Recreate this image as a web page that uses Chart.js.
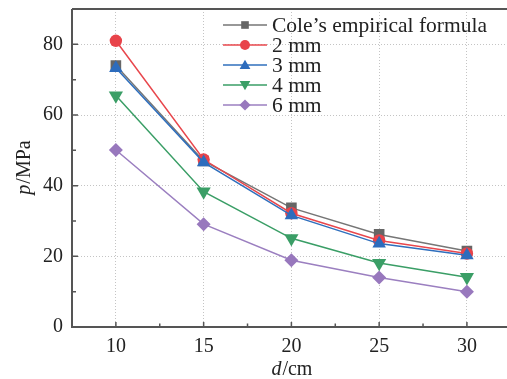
<!DOCTYPE html>
<html>
<head>
<meta charset="utf-8">
<script src="https://cdn.jsdelivr.net/npm/chart.js@4/dist/chart.umd.min.js"></script>
<style>
  html, body { margin: 0; padding: 0; background: #fff; overflow: hidden; }
  #wrap { width: 507px; height: 379px; overflow: hidden; position: relative; }
  #box { width: 519px; height: 379px; }
  #c { display: block; }
</style>
</head>
<body>
<div id="wrap"><div id="box"><canvas id="c" width="519" height="379"></canvas></div></div>
<script>
// Distance d (cm) and peak pressure p (MPa)
const distances   = [10, 15, 20, 25, 30];
const coleFormula = [74.0, 47.0, 33.7, 26.2, 21.5];
const gap2mm      = [81.0, 47.4, 32.2, 24.5, 20.8];
const gap3mm      = [73.3, 46.6, 31.6, 23.6, 20.3];
const gap4mm      = [65.5, 38.3, 25.1, 18.1, 14.1];
const gap6mm      = [50.1, 29.1, 18.9, 14.0, 10.0];

const seriesNames = ['Cole\u2019s empirical formula', '2 mm', '3 mm', '4 mm', '6 mm'];
const xTickValues = [10, 15, 20, 25, 30];
const yTickValues = [0, 20, 40, 60, 80];
const xMinorTicks = [12.5, 17.5, 22.5, 27.5];
const yMinorTicks = [10, 30, 50, 70];

const FONT = "'Liberation Serif', 'Times New Roman', serif";
const AXIS_COLOR = '#555555';

const styles = [
  { line: '#767676', fill: '#666666', shape: 'rect',     radius: 7.5, rot: 0 },
  { line: '#e8474d', fill: '#e8434a', shape: 'circle',   radius: 6.2, rot: 0 },
  { line: '#2f6fbd', fill: '#2d6cbd', shape: 'triangle', radius: 7.8, rot: 0 },
  { line: '#3a9e66', fill: '#3a9e66', shape: 'triangle', radius: 8.2, rot: 180 },
  { line: '#9b7fc0', fill: '#9878bd', shape: 'rectRot',  radius: 7.0, rot: 0 }
];

const seriesValues = [coleFormula, gap2mm, gap3mm, gap4mm, gap6mm];

const datasets = seriesValues.map((vals, i) => ({
  label: seriesNames[i],
  data: distances.map((d, k) => ({ x: d, y: vals[k] })),
  borderColor: styles[i].line,
  borderWidth: 1.5,
  backgroundColor: styles[i].fill,
  pointStyle: styles[i].shape,
  pointRadius: styles[i].radius,
  pointHoverRadius: styles[i].radius,
  pointRotation: styles[i].rot,
  pointBackgroundColor: styles[i].fill,
  pointBorderWidth: 0,
  tension: 0,
  fill: false,
  order: -i
}));

// Axis frame, inward ticks, axis titles and legend
const decorPlugin = {
  id: 'decor',
  beforeDatasetsDraw(chart) {
    const { ctx, chartArea: a, scales: { x, y } } = chart;
    ctx.save();
    ctx.strokeStyle = AXIS_COLOR;
    ctx.lineWidth = 1.5;
    ctx.beginPath();
    yTickValues.forEach(v => { const py = y.getPixelForValue(v); ctx.moveTo(a.left, py); ctx.lineTo(a.left + 6, py); });
    yMinorTicks.forEach(v => { const py = y.getPixelForValue(v); ctx.moveTo(a.left, py); ctx.lineTo(a.left + 4, py); });
    xTickValues.forEach(v => { const px = x.getPixelForValue(v); ctx.moveTo(px, a.bottom); ctx.lineTo(px, a.bottom - 5); });
    xMinorTicks.forEach(v => { const px = x.getPixelForValue(v); ctx.moveTo(px, a.bottom); ctx.lineTo(px, a.bottom - 3.5); });
    ctx.stroke();
    ctx.lineWidth = 2;
    ctx.beginPath();
    ctx.moveTo(a.left, a.top); ctx.lineTo(a.right, a.top);
    ctx.moveTo(a.left, a.top); ctx.lineTo(a.left, a.bottom);
    ctx.moveTo(a.left - 1, a.bottom); ctx.lineTo(a.right, a.bottom);
    ctx.stroke();
    ctx.restore();
  },
  afterDraw(chart) {
    const { ctx, chartArea: a } = chart;
    ctx.save();
    ctx.fillStyle = '#222';
    ctx.textBaseline = 'middle';

    // mixed italic / upright axis title
    const drawTitle = (italicPart, rest, cx, cy, angle) => {
      ctx.save();
      ctx.translate(cx, cy);
      ctx.rotate(angle);
      ctx.font = `italic 20px ${FONT}`;
      const w1 = ctx.measureText(italicPart).width;
      ctx.font = `20px ${FONT}`;
      const w2 = ctx.measureText(rest).width;
      const start = -(w1 + w2) / 2;
      ctx.textAlign = 'left';
      ctx.font = `italic 20px ${FONT}`;
      ctx.fillText(italicPart, start, 0);
      ctx.font = `20px ${FONT}`;
      ctx.fillText(rest, start + w1 + 1, 0);
      ctx.restore();
    };
    drawTitle('p', '/MPa', 25, (a.top + a.bottom) / 2, -Math.PI / 2);
    drawTitle('d', '/cm', (a.left + a.right) / 2, 370, 0);

    // legend
    const lx0 = 223, lx1 = 267, mx = 245, tx = 272;
    const rows = [25, 45, 65, 85, 105];
    const legendScale = [0.72, 0.8, 0.8, 0.75, 0.8];
    ctx.font = `21.5px ${FONT}`;
    ctx.textAlign = 'left';
    styles.forEach((s, i) => {
      const ry = rows[i];
      ctx.strokeStyle = s.line;
      ctx.lineWidth = 1.5;
      ctx.beginPath();
      ctx.moveTo(lx0, ry); ctx.lineTo(lx1, ry);
      ctx.stroke();
      ctx.fillStyle = s.fill;
      Chart.helpers.drawPoint(ctx, {
        pointStyle: s.shape,
        radius: s.radius * legendScale[i],
        rotation: s.rot,
        borderWidth: 0
      }, mx, ry + (s.shape === 'triangle' ? (s.rot ? -1 : 1) : 0));
      ctx.fillStyle = '#222';
      ctx.fillText(seriesNames[i], tx, ry + 1);
    });
    ctx.restore();
  }
};

new Chart(document.getElementById('c'), {
  type: 'line',
  data: { datasets },
  plugins: [decorPlugin],
  options: {
    responsive: false,
    animation: false,
    events: [],
    layout: { padding: { top: 9, left: 0, right: 0, bottom: 0 } },
    plugins: { legend: { display: false }, tooltip: { enabled: false } },
    scales: {
      x: {
        type: 'linear',
        min: 7.5,
        max: 32.5,
        afterBuildTicks: s => { s.ticks = xTickValues.map(v => ({ value: v })); },
        afterFit: s => { s.height = 52; s.paddingLeft = 0; s.paddingRight = 0; },
        grid: { color: '#c4c4c4', lineWidth: 1, drawTicks: false },
        border: { display: false, dash: [1, 2] },
        ticks: { font: { family: FONT, size: 20 }, color: '#222', padding: 8, maxRotation: 0 }
      },
      y: {
        type: 'linear',
        min: 0,
        max: 90,
        afterBuildTicks: s => { s.ticks = yTickValues.map(v => ({ value: v })); },
        afterFit: s => { s.width = 72; s.paddingTop = 0; s.paddingBottom = 0; },
        grid: { color: '#c4c4c4', lineWidth: 1, drawTicks: false },
        border: { display: false, dash: [1, 2] },
        ticks: { font: { family: FONT, size: 20 }, color: '#222', padding: 9 }
      }
    }
  }
});
</script>
</body>
</html>
